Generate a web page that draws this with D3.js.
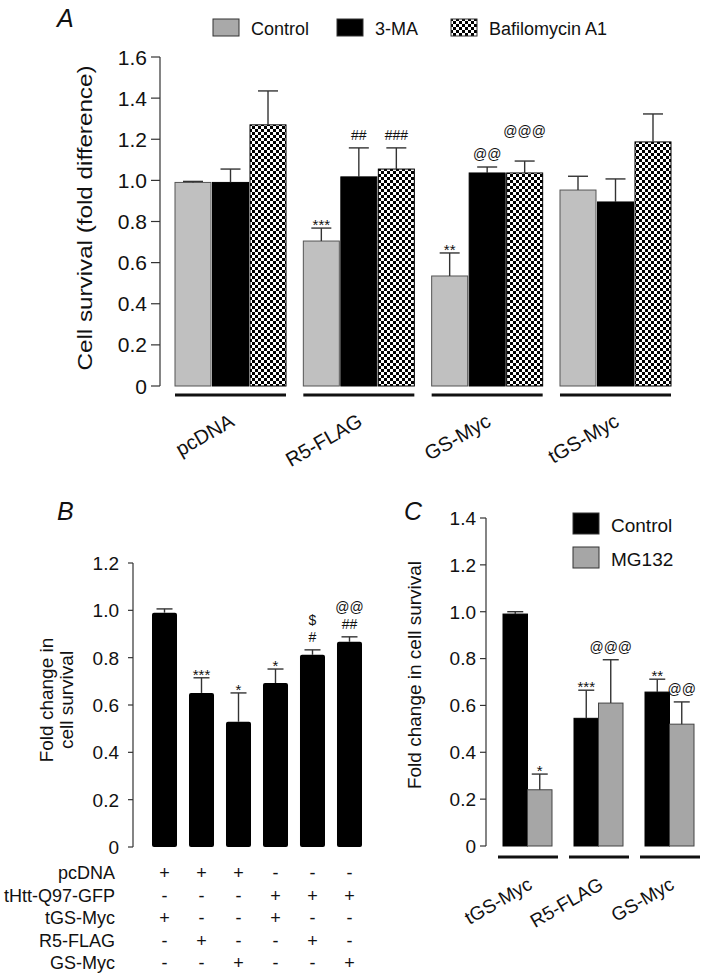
<!DOCTYPE html>
<html>
<head>
<meta charset="utf-8">
<script src="https://cdn.jsdelivr.net/npm/d3@7"></script>
<style>
  body { margin: 0; background: #fff; }
  svg text { font-family: "Liberation Sans", Arial, sans-serif; fill: #111; }
</style>
</head>
<body>
<svg id="fig" width="702" height="974"></svg>
<script>
// ---- panel A data ----
var groupsA = ["pcDNA", "R5-FLAG", "GS-Myc", "tGS-Myc"];
var treatmentsA = ["Control", "3-MA", "Bafilomycin A1"];
var controlA = [0.99, 0.705, 0.535, 0.953];
var controlErrA = [0.005, 0.063, 0.112, 0.067];
var maA = [0.99, 1.017, 1.036, 0.895];
var maErrA = [0.065, 0.141, 0.029, 0.112];
var bafA = [1.27, 1.055, 1.036, 1.187];
var bafErrA = [0.165, 0.103, 0.058, 0.136];
var controlSigA = ["", "***", "**", ""];
var maSigA = ["", "##", "@@", ""];
var bafSigA = ["", "###", "@@@", ""];
var ticksA = [0, 0.2, 0.4, 0.6, 0.8, 1.0, 1.2, 1.4, 1.6];

// ---- panel B data ----
var meanB = [0.99, 0.651, 0.529, 0.693, 0.812, 0.867];
var errB = [0.016, 0.064, 0.122, 0.059, 0.021, 0.021];
var sigB = [[], ["***"], ["*"], ["*"], ["#", "$"], ["##", "@@"]];
var rowLabelsB = ["pcDNA", "tHtt-Q97-GFP", "tGS-Myc", "R5-FLAG", "GS-Myc"];
var rowsB = [
    ["+", "+", "+", "-", "-", "-"],
    ["-", "-", "-", "+", "+", "+"],
    ["+", "-", "-", "+", "-", "-"],
    ["-", "+", "-", "-", "+", "-"],
    ["-", "-", "+", "-", "-", "+"]
];
var ticksB = [0, 0.2, 0.4, 0.6, 0.8, 1.0, 1.2];

// ---- panel C data ----
var groupsC = ["tGS-Myc", "R5-FLAG", "GS-Myc"];
var treatmentsC = ["Control", "MG132"];
var controlC = [0.99, 0.545, 0.657];
var controlErrC = [0.01, 0.12, 0.055];
var mgC = [0.24, 0.61, 0.52];
var mgErrC = [0.067, 0.185, 0.095];
var controlSigC = ["", "***", "**"];
var mgSigC = ["*", "@@@", "@@"];
var ticksC = [0, 0.2, 0.4, 0.6, 0.8, 1.0, 1.2, 1.4];

var svg = d3.select("#fig");
var fmt = function(d) { return d === 0 ? "0" : d3.format(".1f")(d); };
var errColor = "#333";

// checkered fill
var defs = svg.append("defs");
var pat = defs.append("pattern")
    .attr("id", "checks")
    .attr("patternUnits", "userSpaceOnUse")
    .attr("width", 6).attr("height", 6);
pat.append("rect").attr("width", 6).attr("height", 6).attr("fill", "#fff");
pat.append("rect").attr("width", 3).attr("height", 3).attr("fill", "#000");
pat.append("rect").attr("x", 3).attr("y", 3).attr("width", 3).attr("height", 3).attr("fill", "#000");

function yAxis(g, y, ticks, x, tickLen, labelGap, fontSize) {
    var ax = g.append("g").attr("transform", "translate(" + x + ",0)");
    ax.append("line")
        .attr("y1", y(ticks[0])).attr("y2", y(ticks[ticks.length - 1]))
        .attr("stroke", "#333").attr("stroke-width", 1.2);
    ax.selectAll("line.tick").data(ticks).enter().append("line")
        .attr("class", "tick")
        .attr("x1", -tickLen).attr("x2", 0)
        .attr("y1", function(d) { return y(d); })
        .attr("y2", function(d) { return y(d); })
        .attr("stroke", "#333").attr("stroke-width", 1.2);
    ax.selectAll("text").data(ticks).enter().append("text")
        .attr("x", -tickLen - labelGap)
        .attr("y", function(d) { return y(d) + fontSize * 0.36; })
        .attr("text-anchor", "end")
        .attr("font-size", fontSize)
        .text(fmt);
}

function errBar(g, cx, yBar, yTop, half) {
    g.append("line").attr("x1", cx).attr("x2", cx).attr("y1", yBar).attr("y2", yTop)
        .attr("stroke", errColor).attr("stroke-width", 1.4);
    g.append("line").attr("x1", cx - half).attr("x2", cx + half).attr("y1", yTop).attr("y2", yTop)
        .attr("stroke", errColor).attr("stroke-width", 1.4);
}

// stars sit high in the glyph box, so they get their own baseline
function sigText(g, cx, yTop, labels, lift) {
    labels.forEach(function(s, k) {
        if (!s) return;
        var star = s.indexOf("*") >= 0;
        var fs = star ? 15 : 14;
        var base = star ? yTop + 2 : yTop - 8 - (k + (lift || 0)) * 17;
        g.append("text").attr("x", cx).attr("y", base)
            .attr("text-anchor", "middle").attr("font-size", fs)
            .attr("fill", "#333").text(s);
    });
}

function panelLetter(x, y, s) {
    svg.append("text").attr("x", x).attr("y", y)
        .attr("font-size", 25).attr("font-style", "italic").text(s);
}

// ================= Panel A =================
(function() {
    var g = svg.append("g");
    var y = d3.scaleLinear().domain([0, 1.6]).range([386, 57]);
    var x = d3.scaleBand().domain(groupsA).range([175, 671]).paddingInner(0.135);
    var xs = d3.scaleBand().domain(treatmentsA).range([0, x.bandwidth()]).paddingInner(0.04);
    var means = [controlA, maA, bafA];
    var errs = [controlErrA, maErrA, bafErrA];
    var sigs = [controlSigA, maSigA, bafSigA];
    var fills = ["#c0c0c0", "#000", "url(#checks)"];
    var strokes = ["#555", "#000", "#000"];

    panelLetter(57, 27, "A");
    yAxis(g, y, ticksA, 160, 9, 4, 21);

    // the original label runs long, so stretch it to the same length
    g.append("text")
        .attr("transform", "translate(92,218) rotate(-90)")
        .attr("text-anchor", "middle").attr("font-size", 21)
        .attr("textLength", 305).attr("lengthAdjust", "spacingAndGlyphs")
        .text("Cell survival (fold difference)");

    treatmentsA.forEach(function(t, ti) {
        groupsA.forEach(function(grp, gi) {
            var bx = x(grp) + xs(t);
            var v = means[ti][gi];
            g.append("rect")
                .attr("x", bx).attr("y", y(v))
                .attr("width", xs.bandwidth()).attr("height", y(0) - y(v))
                .attr("fill", fills[ti]).attr("stroke", strokes[ti]).attr("stroke-width", 1);
            var cx = bx + xs.bandwidth() / 2;
            var top = y(v + errs[ti][gi]);
            errBar(g, cx, y(v), top, 10);
            var lift = (sigs[ti][gi] === "@@@") ? 1 : 0;
            sigText(g, cx, top, [sigs[ti][gi]], lift);
        });
    });

    groupsA.forEach(function(grp) {
        g.append("line")
            .attr("x1", x(grp)).attr("x2", x(grp) + x.bandwidth())
            .attr("y1", 395).attr("y2", 395)
            .attr("stroke", "#111").attr("stroke-width", 3);
        var ex = x(grp) + x.bandwidth() / 2 + 5;
        g.append("text")
            .attr("transform", "translate(" + ex + ",425) rotate(-30)")
            .attr("text-anchor", "end").attr("font-size", 20)
            .text(grp);
    });

    // legend
    var legX = [213, 337, 451];
    var legFill = ["#a9a9a9", "#000", "url(#checks)"];
    treatmentsA.forEach(function(t, i) {
        g.append("rect").attr("x", legX[i]).attr("y", 19).attr("width", 26).attr("height", 17)
            .attr("fill", legFill[i]).attr("stroke", "#333").attr("stroke-width", 1);
        g.append("text").attr("x", legX[i] + 38).attr("y", 35)
            .attr("font-size", 18).text(t);
    });
})();

// ================= Panel B =================
(function() {
    var g = svg.append("g");
    var y = d3.scaleLinear().domain([0, 1.2]).range([847, 563]);
    var x = d3.scaleBand().domain(d3.range(meanB.length)).range([152, 362]).paddingInner(0.324);

    panelLetter(57, 520, "B");
    yAxis(g, y, ticksB, 133, 5, 9, 19);

    g.append("text")
        .attr("transform", "translate(53,700) rotate(-90)")
        .attr("text-anchor", "middle").attr("font-size", 19)
        .text("Fold change in");
    g.append("text")
        .attr("transform", "translate(73,700) rotate(-90)")
        .attr("text-anchor", "middle").attr("font-size", 19)
        .text("cell survival");

    meanB.forEach(function(v, i) {
        var bx = x(i);
        g.append("rect")
            .attr("x", bx).attr("y", y(v))
            .attr("width", x.bandwidth()).attr("height", y(0) - y(v))
            .attr("rx", 2)
            .attr("fill", "#000");
        var cx = bx + x.bandwidth() / 2;
        var top = y(v + errB[i]);
        errBar(g, cx, y(v), top, 8);
        sigText(g, cx, top, sigB[i], 0);
    });

    var rowY = d3.scalePoint().domain(rowLabelsB).range([873, 963]);
    rowLabelsB.forEach(function(lab, r) {
        g.append("text")
            .attr("x", 115).attr("y", rowY(lab) + 6)
            .attr("text-anchor", "end").attr("font-size", 18)
            .text(lab);
        rowsB[r].forEach(function(s, i) {
            g.append("text")
                .attr("x", x(i) + x.bandwidth() / 2).attr("y", rowY(lab) + 6)
                .attr("text-anchor", "middle").attr("font-size", 18)
                .text(s);
        });
    });
})();

// ================= Panel C =================
(function() {
    var g = svg.append("g");
    var y = d3.scaleLinear().domain([0, 1.4]).range([846, 518]);
    var x = d3.scaleBand().domain(groupsC).range([503, 694]).paddingInner(0.31);
    var xs = d3.scaleBand().domain(treatmentsC).range([0, x.bandwidth()]);
    var means = [controlC, mgC];
    var errs = [controlErrC, mgErrC];
    var sigs = [controlSigC, mgSigC];
    var fills = ["#000", "#a6a6a6"];
    var strokes = ["#000", "#444"];

    panelLetter(404, 520, "C");
    yAxis(g, y, ticksC, 486, 6, 4, 19);

    g.append("text")
        .attr("transform", "translate(421,675) rotate(-90)")
        .attr("text-anchor", "middle").attr("font-size", 19)
        .text("Fold change in cell survival");

    treatmentsC.forEach(function(t, ti) {
        groupsC.forEach(function(grp, gi) {
            var bx = x(grp) + xs(t);
            var v = means[ti][gi];
            g.append("rect")
                .attr("x", bx).attr("y", y(v))
                .attr("width", xs.bandwidth()).attr("height", y(0) - y(v))
                .attr("fill", fills[ti]).attr("stroke", strokes[ti]).attr("stroke-width", 1);
            var cx = bx + xs.bandwidth() / 2;
            var top = y(v + errs[ti][gi]);
            errBar(g, cx, y(v), top, 8);
            sigText(g, cx, top, [sigs[ti][gi]], 0);
        });
    });

    groupsC.forEach(function(grp) {
        g.append("line")
            .attr("x1", x(grp) - 5).attr("x2", x(grp) + x.bandwidth() + 6)
            .attr("y1", 857).attr("y2", 857)
            .attr("stroke", "#111").attr("stroke-width", 3);
        var ex = x(grp) + x.bandwidth() / 2 + 6;
        g.append("text")
            .attr("transform", "translate(" + ex + ",888) rotate(-30)")
            .attr("text-anchor", "end").attr("font-size", 19)
            .text(grp);
    });

    var legY = [513, 547];
    treatmentsC.forEach(function(t, i) {
        g.append("rect").attr("x", 573).attr("y", legY[i]).attr("width", 26).attr("height", 21)
            .attr("fill", fills[i]).attr("stroke", "#333").attr("stroke-width", 1);
        g.append("text").attr("x", 611).attr("y", legY[i] + 19)
            .attr("font-size", 19).text(t);
    });
})();
</script>
</body>
</html>
